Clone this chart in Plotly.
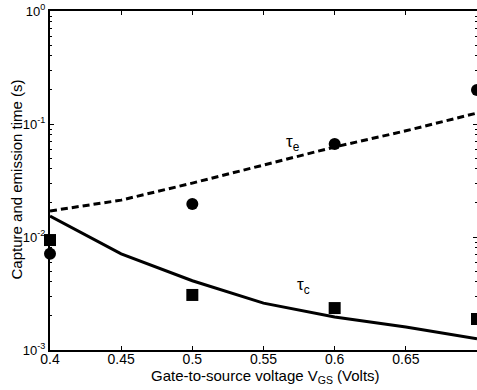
import plotly.graph_objects as go

vgs_pts = [0.4, 0.5, 0.6, 0.7]
tau_e_meas = [0.0071, 0.0196, 0.0665, 0.20]
tau_c_meas = [0.0094, 0.00307, 0.00235, 0.00188]

vgs_line = [0.4, 0.45, 0.5, 0.55, 0.6, 0.65, 0.7]
tau_e_fit = [0.0170, 0.0212, 0.0300, 0.0434, 0.0626, 0.087, 0.125]
tau_c_fit = [0.0153, 0.0071, 0.0041, 0.0026, 0.00196, 0.0016, 0.00126]

font = "Liberation Sans, Arial, sans-serif"

fig = go.Figure()
fig.add_trace(go.Scatter(x=vgs_line, y=tau_e_fit, mode="lines",
                         line=dict(color="black", width=3, dash="7px,4px"),
                         showlegend=False))
fig.add_trace(go.Scatter(x=vgs_line, y=tau_c_fit, mode="lines",
                         line=dict(color="black", width=3),
                         showlegend=False))
fig.add_trace(go.Scatter(x=vgs_pts, y=tau_e_meas, mode="markers",
                         marker=dict(symbol="circle", size=12, color="black"),
                         showlegend=False, cliponaxis=False))
fig.add_trace(go.Scatter(x=vgs_pts, y=tau_c_meas, mode="markers",
                         marker=dict(symbol="square", size=12, color="black"),
                         showlegend=False, cliponaxis=False))

fig.add_annotation(x=0.571, y=-1.17, xref="x", yref="y", text="τ<sub>e</sub>",
                   showarrow=False, font=dict(family=font, size=17, color="black"))
fig.add_annotation(x=0.578, y=-2.43, xref="x", yref="y", text="τ<sub>c</sub>",
                   showarrow=False, font=dict(family=font, size=17, color="black"))

fig.add_annotation(x=-0.0796, y=0.503, xref="paper", yref="paper",
                   xanchor="center", yanchor="middle",
                   text="Capture and emission time (s)", textangle=-90,
                   showarrow=False, font=dict(family=font, size=15, color="black"))
fig.add_annotation(x=0.505, y=-0.078, xref="paper", yref="paper",
                   xanchor="center", yanchor="middle",
                   text="Gate-to-source voltage V<sub>GS</sub> (Volts)",
                   showarrow=False, font=dict(family=font, size=15, color="black"))

fig.update_layout(
    width=477, height=390,
    margin=dict(l=50, r=0, t=11, b=40, autoexpand=False),
    paper_bgcolor="white", plot_bgcolor="white",
    font=dict(family=font, size=12, color="black"),
    xaxis=dict(range=[0.4, 0.7], tickvals=[0.4, 0.45, 0.5, 0.55, 0.6, 0.65],
               ticktext=["0.4", "0.45", "0.5", "0.55", "0.6", "0.65"],
               ticks="inside", ticklen=4, tickcolor="black",
               showline=True, linecolor="black", linewidth=2, mirror="ticks",
               showgrid=False, zeroline=False, automargin=False,
               ticklabelstandoff=-5,
               tickfont=dict(size=14)),
    yaxis=dict(type="log", range=[-3, 0], tickvals=[0.001, 0.01, 0.1, 1],
               ticktext=["10<sup>-3</sup>", "10<sup>-2</sup>", "10<sup>-1</sup>", "10<sup>0</sup>"],
               ticks="inside", ticklen=4, tickcolor="black",
               minor=dict(ticks="inside", ticklen=2, tickcolor="black", showgrid=False,
                          tickvals=[m * 10 ** e for e in (-3, -2, -1) for m in range(2, 10)]),
               showline=True, linecolor="black", linewidth=2, mirror="ticks",
               showgrid=False, zeroline=False, automargin=False,
               tickfont=dict(size=13)),
)

fig.write_html("out.html", config={"displayModeBar": False},
               post_script="document.body.style.margin='0';document.body.style.overflow='hidden';")
